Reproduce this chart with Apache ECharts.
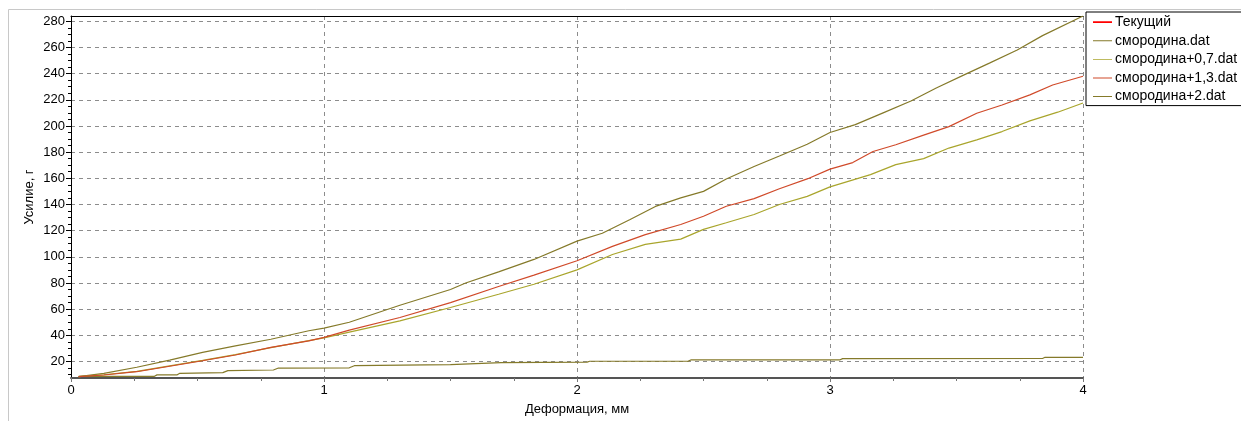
<!DOCTYPE html>
<html>
<head>
<meta charset="utf-8">
<script src="https://cdn.jsdelivr.net/npm/echarts@6/dist/echarts.min.js"></script>
<style>html,body{margin:0;padding:0;background:#fff}#c{width:1241px;height:421px}</style>
</head>
<body>
<div id="c"></div>
<script>
// ---- data ----
const seriesNames = ['Текущий', 'смородина.dat', 'смородина+0,7.dat', 'смородина+1,3.dat', 'смородина+2.dat'];

const xCurrent = [];
const yCurrent = [];

const xBase = [0.03,0.13,0.26,0.39,0.52,0.65,0.79,0.94,1.0,1.1,1.3,1.5,1.56,1.69,1.83,2.0,2.1,2.21,2.31,2.41,2.5,2.59,2.7,2.8,2.91,3.0,3.1,3.21,3.32,3.42,3.53,3.63,3.74,3.84,4.0];
const yBase = [8.5,11,15.6,21,27,32,37,43.5,45.5,50,63,75,80,88.5,98,112,118,128.5,138.5,145,150,159.5,169,177,186,195,201,210,219,229,239,248,258,269,284];

const xP07 = [0.03,0.13,0.26,0.39,0.52,0.65,0.79,0.94,1.0,1.1,1.3,1.5,1.69,1.83,2.0,2.14,2.27,2.41,2.5,2.59,2.7,2.8,2.91,3.0,3.16,3.26,3.37,3.47,3.58,3.68,3.79,3.9,4.0];
const yP07 = [8.5,9.9,12.4,16.6,20.8,25.3,30.6,35.9,38,42.4,51,61.3,71.4,79,90,101.8,109.5,113.5,121,126,132.3,140,146.2,153.4,162.8,170.4,175,183.1,189.4,195.7,203.9,210.5,217.5];

const xP13 = [0.03,0.13,0.26,0.39,0.52,0.65,0.79,0.94,1.0,1.1,1.3,1.5,1.69,1.83,2.0,2.14,2.27,2.41,2.5,2.59,2.7,2.8,2.91,3.0,3.09,3.17,3.26,3.37,3.47,3.58,3.68,3.79,3.88,4.0];
const yP13 = [8.5,9.7,12.2,16.4,20.6,25,30.8,35.8,38.4,44,53.6,65,77.3,86,97,108,117,124.7,131,138.6,144.5,152,159.5,167,172,180.5,185.6,193,199.5,209.7,216,223.7,231.3,238];

const xP2 = [0.03,0.33,0.34,0.42,0.43,0.6,0.62,0.8,0.82,1.1,1.12,1.5,1.7,2.04,2.05,2.44,2.45,3.04,3.05,3.84,3.85,4.0];
const yP2 = [8.7,8.7,9.8,9.8,11,11.5,13,13.5,15,15.2,16.8,17.6,19.2,19.5,20.2,20.3,21.2,21.3,22.2,22.3,23.2,23.2];

const xTicks = [0, 1, 2, 3, 4];
const yTicks = [20,40,60,80,100,120,140,160,180,200,220,240,260,280];
const yMinorTicks = [10,15,25,30,35,45,50,55,65,70,75,85,90,95,105,110,115,125,130,135,145,150,155,165,170,175,185,190,195,205,210,215,225,230,235,245,250,255,265,270,275];

const colors = ['#ff0000', '#857a2a', '#a9a52c', '#d04a2a', '#857a2a'];

function zip(xs, ys) { return xs.map((x, i) => [x, ys[i]]); }
const dataSets = [zip(xCurrent, yCurrent), zip(xBase, yBase), zip(xP07, yP07), zip(xP13, yP13), zip(xP2, yP2)];

const thinIcon = 'path://M0,0L0.01,0L0.01,0.01L0,0.01Z M0,1.6H20V2.6H0Z M0,4L0.01,4L0.01,3.99L0,3.99Z';
const thickIcon = 'path://M0,0L0.01,0L0.01,0.01L0,0.01Z M0,1H20V3H0Z M0,4L0.01,4L0.01,3.99L0,3.99Z';

const font = 'Liberation Sans, Arial, sans-serif';
const Y_MIN = 7.4, Y_MAX = 284;
const chart = echarts.init(document.getElementById('c'), null, {renderer: 'canvas'});
chart.setOption({
  animation: false,
  backgroundColor: '#fff',
  graphic: [{
    type: 'rect', silent: true, z: -10,
    shape: {x: 8.5, y: 9.5, width: 1400, height: 600},
    style: {fill: 'none', stroke: '#c8c8c8', lineWidth: 1}
  }],
  grid: {left: 71, top: 16, width: 1012, height: 363, containLabel: false},
  legend: {
    orient: 'vertical', left: 1086, top: 12,
    backgroundColor: '#fff', borderColor: '#000', borderWidth: 1, borderRadius: 0,
    padding: [3, 40, 2, 7],
    itemWidth: 19, itemHeight: 4, itemGap: 4.4,
    textStyle: {fontFamily: font, fontSize: 14, color: '#000', lineHeight: 14.2, padding: [0, 0, 0, -2]},
    data: seriesNames.map((n, i) => ({name: n, icon: i === 0 ? thickIcon : thinIcon}))
  },
  xAxis: [{
    type: 'value', min: 0, max: 4, interval: 1,
    name: 'Деформация, мм', nameLocation: 'middle', nameGap: 25,
    nameTextStyle: {fontFamily: font, fontSize: 13, color: '#000'},
    axisLine: {show: true, onZero: false, lineStyle: {color: '#555', width: 2}},
    axisTick: {show: true, length: 7, lineStyle: {color: '#777', type: [4, 3]}},
    minorTick: {show: true, splitNumber: 4, length: 3, lineStyle: {color: '#777'}},
    axisLabel: {fontFamily: font, fontSize: 13, color: '#000', margin: 6,
      formatter: v => xTicks.indexOf(v) >= 0 ? String(v) : ''},
    splitLine: {show: true, lineStyle: {color: '#8c8c8c', type: [4, 4], width: 1}}
  }, {
    type: 'value', position: 'top', min: 0, max: 4,
    axisLine: {show: true, onZero: false, lineStyle: {color: '#000', width: 1}},
    axisTick: {show: false}, axisLabel: {show: false}, splitLine: {show: false}
  }],
  yAxis: [{
    type: 'value', min: Y_MIN, max: Y_MAX,
    name: 'Усилие, г', nameLocation: 'middle', nameGap: 35, nameMoveOverlap: false,
    nameTextStyle: {fontFamily: font, fontSize: 13, color: '#000'},
    axisLine: {show: true, onZero: false, lineStyle: {color: '#000', width: 1}},
    axisTick: {show: true, length: 5, customValues: yTicks, lineStyle: {color: '#000'}},
    axisLabel: {fontFamily: font, fontSize: 13, color: '#000', margin: 6, customValues: yTicks},
    splitLine: {show: true, lineStyle: {color: '#8c8c8c', type: [4, 4], width: 1}}
  }, {
    type: 'value', position: 'left', min: Y_MIN, max: Y_MAX,
    axisLine: {show: false},
    axisTick: {show: true, length: 3, customValues: yMinorTicks, lineStyle: {color: '#000'}},
    axisLabel: {show: false, customValues: yMinorTicks},
    splitLine: {show: false}
  }],
  series: seriesNames.map((n, i) => ({
    name: n, type: 'line', data: dataSets[i], showSymbol: false, symbol: 'none',
    lineStyle: {color: colors[i], width: i === 0 ? 2 : 1.2},
    itemStyle: {color: colors[i]}, z: i === 0 ? 5 : 3 + (i === 3 ? 1 : 0)
  }))
});
</script>
</body>
</html>
